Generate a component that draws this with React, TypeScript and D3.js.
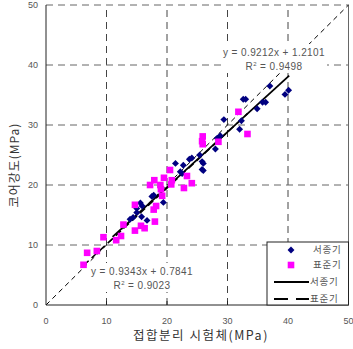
import { useEffect, useRef } from "react";
import * as d3 from "d3";

// 서종기 (blue diamonds): [접합분리 시험체, 코어강도]
const seoData: [number, number][] = [
  [13.9, 14.3], [14.4, 14.6], [15.0, 15.4], [15.0, 16.1], [15.6, 17.0], [15.9, 16.5],
  [15.8, 14.7], [16.7, 14.1], [17.5, 18.1], [17.8, 18.3], [19.4, 17.1], [21.4, 23.6],
  [22.2, 22.2], [22.5, 21.9], [22.7, 23.3], [23.7, 24.3], [24.1, 24.5], [25.4, 25.0],
  [25.8, 23.9], [26.0, 23.6], [25.8, 22.6], [26.0, 22.4], [28.0, 26.0], [28.3, 27.8],
  [28.8, 28.2], [29.4, 30.9], [32.0, 29.3], [32.3, 30.7], [32.6, 34.3], [33.0, 34.3],
  [34.9, 32.7], [35.8, 33.8], [36.3, 33.8], [37.0, 36.5], [39.5, 35.1], [40.1, 35.8],
];

// 표준기 (magenta squares)
const stdData: [number, number][] = [
  [6.2, 6.7], [6.8, 8.7], [8.4, 9.0], [9.5, 11.3], [11.6, 10.8], [12.4, 11.5],
  [12.8, 13.4], [14.7, 12.4], [15.7, 13.2], [16.3, 12.8], [14.7, 16.7], [17.8, 15.9],
  [18.0, 13.9], [18.2, 16.5], [17.2, 20.0], [17.9, 20.8], [18.9, 20.0], [19.5, 21.2],
  [19.0, 19.3], [20.5, 22.5], [20.7, 20.1], [20.8, 20.8], [22.8, 19.5], [23.3, 21.5],
  [24.1, 20.3], [19.2, 18.2], [25.9, 28.1], [25.8, 27.3], [25.9, 26.8], [28.5, 27.2],
  [31.8, 32.2], [33.3, 28.5],
];

// 회귀식: 기울기, 절편, 선 범위
const seoFit = { slope: 0.9212, intercept: 1.2101, from: 11, to: 40.2 };
const stdFit = { slope: 0.9343, intercept: 0.7841, from: 6.2, to: 33.3 };

const xTicks = [0, 10, 20, 30, 40, 50];
const yTicks = [0, 10, 20, 30, 40, 50];
const legendLabels = ["서종기", "표준기", "서종기", "표준기"];

const W = 353;
const H = 349;
const FONT = "'Liberation Sans', Arial, sans-serif";
const KFONT = "'Noto Sans CJK KR', 'Liberation Sans', sans-serif";

export default function App() {
  const ref = useRef<SVGSVGElement | null>(null);

  useEffect(() => {
    if (!ref.current) return;
    const svg = d3.select(ref.current);
    svg.selectAll("*").remove();

    const x = d3.scaleLinear().domain([0, 50]).range([46, 348.5]);
    const y = d3.scaleLinear().domain([0, 50]).range([305, 5]);

    svg.append("rect").attr("width", W).attr("height", H).attr("fill", "#fff");

    const g = svg.append("g");

    // 그리드 (점선)
    g.selectAll(".vgrid")
      .data(xTicks.filter((t) => t > 0 && t < 50))
      .enter()
      .append("line")
      .attr("x1", (d) => x(d))
      .attr("x2", (d) => x(d))
      .attr("y1", y(0))
      .attr("y2", y(50))
      .attr("stroke", "#444")
      .attr("stroke-dasharray", "7,5");

    g.selectAll(".hgrid")
      .data(yTicks.filter((t) => t > 0))
      .enter()
      .append("line")
      .attr("x1", x(0))
      .attr("x2", x(50))
      .attr("y1", (d) => y(d))
      .attr("y2", (d) => y(d))
      .attr("stroke", "#666")
      .attr("stroke-dasharray", "7,5");

    // 오른쪽 테두리
    g.append("line")
      .attr("x1", x(50))
      .attr("x2", x(50))
      .attr("y1", y(0))
      .attr("y2", y(50))
      .attr("stroke", "#666");

    // 1:1 선
    g.append("line")
      .attr("x1", x(0))
      .attr("y1", y(0))
      .attr("x2", x(50))
      .attr("y2", y(50))
      .attr("stroke", "#000")
      .attr("stroke-width", 1)
      .attr("stroke-dasharray", "5,4");

    // 회귀선
    const fitLine = (f: typeof seoFit) =>
      d3
        .line<number>()
        .x((d) => x(d))
        .y((d) => y(f.slope * d + f.intercept))([f.from, f.to]);

    g.append("path")
      .attr("d", fitLine(stdFit))
      .attr("fill", "none")
      .attr("stroke", "#000")
      .attr("stroke-width", 1.5)
      .attr("stroke-dasharray", "7,4");

    g.append("path")
      .attr("d", fitLine(seoFit))
      .attr("fill", "none")
      .attr("stroke", "#000")
      .attr("stroke-width", 1.8);

    // 데이터 점
    const diamond = d3.symbol().type(d3.symbolSquare).size(24);
    g.selectAll(".seo")
      .data(seoData)
      .enter()
      .append("path")
      .attr("d", diamond)
      .attr("transform", (d) => `translate(${x(d[0])},${y(d[1])}) rotate(45)`)
      .attr("fill", "#000080");

    g.selectAll(".std")
      .data(stdData)
      .enter()
      .append("rect")
      .attr("x", (d) => x(d[0]) - 3.3)
      .attr("y", (d) => y(d[1]) - 3.3)
      .attr("width", 6.6)
      .attr("height", 6.6)
      .attr("fill", "#ff00ff");

    // 축
    g.append("line")
      .attr("x1", x(0))
      .attr("x2", x(0))
      .attr("y1", y(0))
      .attr("y2", y(50))
      .attr("stroke", "#222");
    g.append("line")
      .attr("x1", x(0))
      .attr("x2", x(50))
      .attr("y1", y(0))
      .attr("y2", y(0))
      .attr("stroke", "#222");
    g.selectAll(".xtick")
      .data(xTicks.filter((t) => t > 0 && t < 50))
      .enter()
      .append("line")
      .attr("x1", (d) => x(d))
      .attr("x2", (d) => x(d))
      .attr("y1", y(0))
      .attr("y2", y(0) - 4)
      .attr("stroke", "#222");

    // 회귀식 라벨
    const eq = (cx: number, cy: number, line1: string, r2: string, w: number) => {
      g.append("rect")
        .attr("x", cx - w / 2)
        .attr("y", cy - 12)
        .attr("width", w)
        .attr("height", 29)
        .attr("fill", "#fff");
      g.append("text")
        .attr("x", cx)
        .attr("y", cy)
        .attr("text-anchor", "middle")
        .attr("font-family", FONT)
        .attr("font-size", 10)
        .attr("letter-spacing", 0.4)
        .attr("fill", "#555")
        .attr("xml:space", "preserve")
        .text(line1);
      const t = g
        .append("text")
        .attr("x", cx)
        .attr("y", cy + 14)
        .attr("text-anchor", "middle")
        .attr("font-family", FONT)
        .attr("font-size", 10)
        .attr("letter-spacing", 0.4)
        .attr("fill", "#555");
      t.append("tspan").text("R");
      t.append("tspan").attr("font-size", 6).attr("dy", -4).text("2");
      t.append("tspan").attr("dy", 4).text(` = ${r2}`);
    };
    eq(274, 56, "y = 0.9212x + 1.2101", "0.9498", 106);
    eq(142, 275, "y = 0.9343x + 0.7841", "0.9023", 110);

    // 눈금 라벨
    g.selectAll(".xl")
      .data(xTicks)
      .enter()
      .append("text")
      .attr("x", (d) => x(d))
      .attr("y", 324)
      .attr("text-anchor", "middle")
      .attr("font-family", FONT)
      .attr("font-size", 9)
      .attr("fill", "#555")
      .text((d) => d);

    g.selectAll(".yl")
      .data(yTicks)
      .enter()
      .append("text")
      .attr("x", 38)
      .attr("y", (d) => y(d))
      .attr("dy", "0.35em")
      .attr("text-anchor", "end")
      .attr("font-family", FONT)
      .attr("font-size", 9)
      .attr("fill", "#555")
      .text((d) => d);

    // 축 제목
    g.append("text")
      .attr("x", 201)
      .attr("y", 340)
      .attr("text-anchor", "middle")
      .attr("font-family", KFONT)
      .attr("font-size", 12.5)
      .attr("letter-spacing", 1.5)
      .attr("fill", "#333")
      .text("접합분리 시험체(MPa)");

    g.append("text")
      .attr("transform", "translate(19,165) rotate(-90)")
      .attr("text-anchor", "middle")
      .attr("font-family", KFONT)
      .attr("font-size", 12)
      .attr("letter-spacing", 1)
      .attr("fill", "#333")
      .text("코어강도(MPa)");

    // 범례
    const lg = g.append("g");
    lg.append("rect")
      .attr("x", 267)
      .attr("y", 242)
      .attr("width", x(50) - 267)
      .attr("height", y(0) - 242)
      .attr("fill", "#fff")
      .attr("stroke", "#222");
    const rows = [250, 265, 282, 299];
    lg.append("path")
      .attr("d", diamond)
      .attr("transform", `translate(291,${rows[0]}) rotate(45)`)
      .attr("fill", "#000080");
    lg.append("rect")
      .attr("x", 287.7)
      .attr("y", rows[1] - 3.3)
      .attr("width", 6.6)
      .attr("height", 6.6)
      .attr("fill", "#ff00ff");
    lg.append("line")
      .attr("x1", 274)
      .attr("x2", 309)
      .attr("y1", rows[2])
      .attr("y2", rows[2])
      .attr("stroke", "#000")
      .attr("stroke-width", 1.8);
    lg.append("line")
      .attr("x1", 274)
      .attr("x2", 309)
      .attr("y1", rows[3])
      .attr("y2", rows[3])
      .attr("stroke", "#000")
      .attr("stroke-width", 1.8)
      .attr("stroke-dasharray", "14,8");
    lg.selectAll(".lt")
      .data(legendLabels)
      .enter()
      .append("text")
      .attr("x", (_d, i) => (i < 2 ? 313 : 310))
      .attr("y", (_d, i) => rows[i])
      .attr("dy", "0.35em")
      .attr("font-family", KFONT)
      .attr("font-size", 9.5)
      .attr("letter-spacing", 0.8)
      .attr("fill", "#555")
      .text((d) => d);
  }, []);

  return (
    <div style={{ position: "fixed", left: 0, top: 0 }}>
      <svg ref={ref} width={W} height={H} />
    </div>
  );
}
